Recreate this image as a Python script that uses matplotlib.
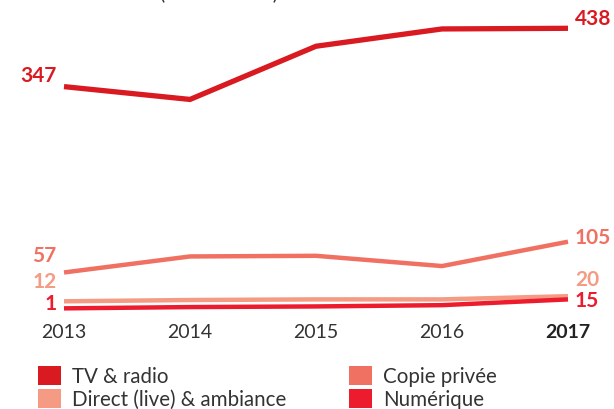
import matplotlib
matplotlib.use("Agg")
import matplotlib.pyplot as plt
from matplotlib.patches import Rectangle

plt.rcParams["font.family"] = ["Lato", "DejaVu Sans"]

# Perceptions par type de droits (en millions €)
years = [2013, 2014, 2015, 2016, 2017]
year_labels = ["2013", "2014", "2015", "2016", "2017"]

tv_radio = [347, 327, 410, 437, 438]
copie_privee = [57, 82, 83, 67, 105]
direct_live = [12, 14, 15, 15, 20]
numerique = [1, 3, 4, 6, 15]

series_names = ["TV & radio", "Copie privée", "Direct (live) & ambiance", "Numérique"]
series_values = [tv_radio, copie_privee, direct_live, numerique]
colors = ["#d91a21", "#f07161", "#f59b84", "#ec1c2e"]
linewidths = [3.8, 3.2, 3.2, 3.2]
# vertical offsets (px) of the start / end value labels
start_offsets = [12, 17, 20, 5]
end_offsets = [10, 5, 17, -1]

W, H = 614, 410
fig = plt.figure(figsize=(W / 100, H / 100), dpi=100)

x0, x1 = 64, 568
y0, y1 = 310, 29.3
ax = fig.add_axes([x0 / W, 1 - y0 / H, (x1 - x0) / W, (y0 - y1) / H])
ax.set_xlim(years[0], years[-1])
ax.set_ylim(0, 438)
ax.axis("off")

FS = 14
VFS = 15
for name, vals, c, lw, so, eo in zip(series_names, series_values, colors,
                                      linewidths, start_offsets, end_offsets):
    ax.plot(years, vals, color=c, lw=lw, solid_capstyle="butt",
            solid_joinstyle="miter", clip_on=False, zorder=3)
    ax.annotate(str(vals[0]), (years[0], vals[0]), xytext=(-5.5, so * 0.72),
                textcoords="offset points", ha="right", va="center",
                fontsize=VFS, fontweight="bold", color=c)
    ax.annotate(str(vals[-1]), (years[-1], vals[-1]), xytext=(5, eo * 0.72),
                textcoords="offset points", ha="left", va="center",
                fontsize=VFS, fontweight="bold", color=c)

# year axis labels
for yr, lab in zip(years, year_labels):
    last = yr == years[-1]
    ax.annotate(lab, (yr, 0), xytext=(0, -23 * 0.72), textcoords="offset points",
                xycoords=("data", "axes fraction"), ha="center", va="center",
                fontsize=FS, fontweight="bold" if last else "normal",
                color="#222222" if last else "#333333")

# legend, two columns
LFS = 14.8
legend_items = [
    ("TV & radio", colors[0], 38, 376),
    ("Direct (live) & ambiance", colors[2], 38, 399),
    ("Copie privée", colors[1], 349, 376),
    ("Numérique", colors[3], 349, 399),
]
for lab, c, px, py in legend_items:
    fig.add_artist(Rectangle((px / W, 1 - (py + 9.5) / H), 23 / W, 19 / H,
                             transform=fig.transFigure, color=c, lw=0))
    fig.text((px + 34) / W, 1 - (py + 1) / H, lab, ha="left", va="center",
             fontsize=LFS, color="#333333")

# chart subtitle (mostly above the visible area)
fig.text(160 / W, 1 + 1 / H, "(en millions €)", ha="left", va="baseline",
         fontsize=FS, color="#333333")

fig.savefig("out.png", dpi=100)
